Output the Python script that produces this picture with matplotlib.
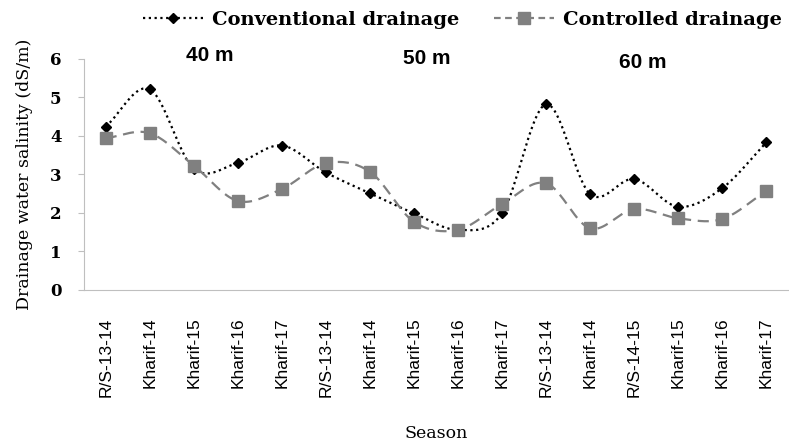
import numpy as np
import matplotlib.pyplot as plt

seasons = ['R/S-13-14', 'Kharif-14', 'Kharif-15', 'Kharif-16', 'Kharif-17',
           'R/S-13-14', 'Kharif-14', 'Kharif-15', 'Kharif-16', 'Kharif-17',
           'R/S-13-14', 'Kharif-14', 'R/S-14-15', 'Kharif-15', 'Kharif-16', 'Kharif-17']
conventional = [4.24, 5.21, 3.15, 3.30, 3.75, 3.05, 2.51, 1.99, 1.56, 1.99,
                4.82, 2.49, 2.88, 2.16, 2.64, 3.83]
controlled = [3.94, 4.07, 3.23, 2.31, 2.62, 3.29, 3.07, 1.77, 1.56, 2.23,
              2.77, 1.60, 2.10, 1.86, 1.84, 2.57]
spacing_labels = ['40 m', '50 m', '60 m']


def smooth(y, n=20):
    # catmull-rom curve through the points, like excel's smoothed line
    y = np.asarray(y, float)
    x = np.arange(len(y), dtype=float)
    px = np.concatenate([[2*x[0]-x[1]], x, [2*x[-1]-x[-2]]])
    py = np.concatenate([[2*y[0]-y[1]], y, [2*y[-1]-y[-2]]])
    xs, ys = [], []
    for i in range(1, len(px)-2):
        t = np.linspace(0, 1, n, endpoint=False)
        for p, out in ((px, xs), (py, ys)):
            p0, p1, p2, p3 = p[i-1], p[i], p[i+1], p[i+2]
            out.extend(0.5*((2*p1) + (-p0+p2)*t + (2*p0-5*p1+4*p2-p3)*t**2
                            + (-p0+3*p1-3*p2+p3)*t**3))
    xs.append(x[-1]); ys.append(y[-1])
    return np.array(xs), np.array(ys)


fig = plt.figure(figsize=(7.89, 4.46), dpi=100)
ax = fig.add_axes([0.106, 0.350, 0.893, 0.518])

x = np.arange(len(seasons))
sx, sy = smooth(conventional)
ax.plot(sx, sy, color='black', linestyle=(0, (1, 1.6)), linewidth=1.6)
ax.plot(x, conventional, linestyle='none', marker='D', markersize=5, color='black')
sx, sy = smooth(controlled)
ax.plot(sx, sy, color='#808080', linestyle=(0, (5, 3)), linewidth=1.6)
ax.plot(x, controlled, linestyle='none', marker='s', markersize=8, color='#808080')

ax.set_xlim(-0.5, len(seasons)-0.5)
ax.set_ylim(0, 6)
ax.set_yticks(range(7))
ax.set_yticklabels([str(v) for v in range(7)], fontsize=12, fontweight='bold',
                   family='DejaVu Serif')
ax.set_xticks(x)
ax.set_xticklabels(seasons, rotation=90, fontsize=12.5, family='Liberation Sans')
ax.tick_params(axis='x', length=0, pad=20)
ax.tick_params(axis='y', length=4, color='#bfbfbf', pad=12)
for s in ['top', 'right']:
    ax.spines[s].set_visible(False)
ax.spines['left'].set_color('#bfbfbf')
ax.spines['bottom'].set_color('#bfbfbf')

ax.set_ylabel('Drainage water salinity (dS/m)', fontsize=12.5, family='DejaVu Serif',
              labelpad=12)
ax.set_xlabel('Season', fontsize=12.5, family='DejaVu Serif', labelpad=20)

for lbl, xp, yp in zip(spacing_labels, [2.36, 7.3, 12.2], [6.08, 6.0, 5.9]):
    ax.text(xp, yp, lbl, fontsize=15, fontweight='bold', ha='center', va='center',
            family='Liberation Sans')

h1, = ax.plot([], [], color='black', linestyle=(0, (1, 1.6)), linewidth=1.6,
              marker='D', markersize=5)
h2, = ax.plot([], [], color='#808080', linestyle=(0, (3, 2)), linewidth=1.6,
              marker='s', markersize=8)
fig.legend([h1, h2], ['Conventional drainage', 'Controlled drainage'], ncol=2,
           loc='center', bbox_to_anchor=(0.586, 0.955), frameon=False,
           prop={'family': 'DejaVu Serif', 'weight': 'bold', 'size': 14},
           handlelength=3.1, columnspacing=1.75, handletextpad=0.45)

fig.savefig('out.png', dpi=100)
